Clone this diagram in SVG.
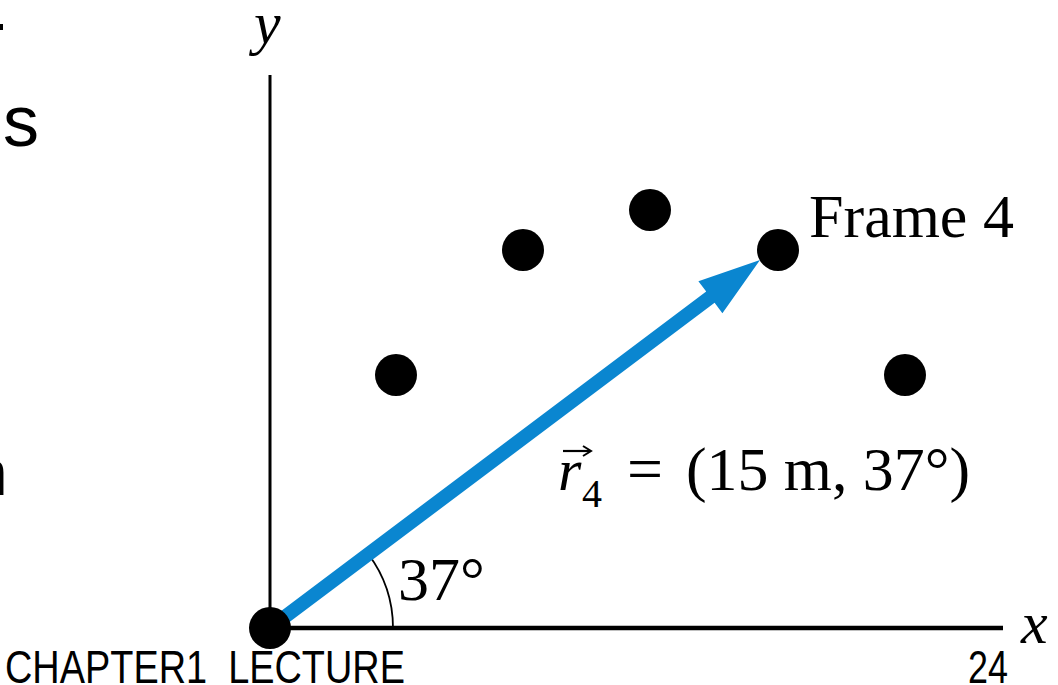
<svg xmlns="http://www.w3.org/2000/svg" width="1058" height="685" viewBox="0 0 1058 685">
<style>
.serif{font-family:"Liberation Serif","Times New Roman",serif;fill:#000}
.sans{font-family:"Liberation Sans",Arial,sans-serif;fill:#000}
.dot{fill:#000}
.axis{stroke:#000;fill:none}
</style>
<rect width="1058" height="685" fill="#fff"/>
<g id="slide-fragments">
<rect x="0" y="24" width="3" height="6" fill="#000"/>
<text class="sans" x="3" y="146" font-size="72">s</text>
<text class="sans" x="-28" y="495" font-size="64">n</text>
</g>
<g id="axes">
<line class="axis" x1="270" y1="75" x2="270" y2="628" stroke-width="3"/>
<line class="axis" x1="270" y1="628" x2="1003" y2="628" stroke-width="4.5"/>
<text class="serif" x="254" y="43" font-size="60" font-style="italic">y</text>
<text class="serif" x="1021" y="643" font-size="60" font-style="italic">x</text>
</g>
<g id="angle">
<path d="M393,628 A123,123 0 0 0 368.2,554" fill="none" stroke="#000" stroke-width="1.8"/>
<text class="serif" x="398" y="600" font-size="62">37°</text>
</g>
<g id="connectors">
<polygon points="265.8,622.4 706.2,291.6 698.4,281.2 760,260 722.4,313.2 714.6,302.8 274.2,633.6" fill="#0a86d0"/>
</g>
<g id="dot-origin"><circle class="dot" cx="270" cy="628" r="21"/></g>
<g id="dot-1"><circle class="dot" cx="396" cy="375" r="21"/></g>
<g id="dot-2"><circle class="dot" cx="523" cy="250" r="21"/></g>
<g id="dot-3"><circle class="dot" cx="650" cy="210" r="21"/></g>
<g id="dot-frame4"><circle class="dot" cx="778" cy="250" r="21"/>
<text class="serif" x="809" y="237" font-size="62">Frame 4</text></g>
<g id="dot-5"><circle class="dot" cx="905" cy="375" r="21"/></g>
<g id="vector-label">
<text class="serif" x="558" y="490" font-size="60" font-style="italic">r</text>
<text class="serif" x="582" y="507" font-size="40">4</text>
<text class="serif" x="627" y="490" font-size="64" textLength="36" lengthAdjust="spacingAndGlyphs">=</text>
<text class="serif" x="686" y="490" font-size="62" textLength="284" lengthAdjust="spacingAndGlyphs">(15 m, 37°)</text>
<path d="M563,451 L590,451" stroke="#000" stroke-width="2.2"/>
<path d="M583,446 L591,451 L583,456" fill="none" stroke="#000" stroke-width="2"/>
</g>
<g id="footer">
<text class="sans" x="5" y="683" font-size="46" textLength="400" lengthAdjust="spacingAndGlyphs" xml:space="preserve" style="white-space:pre">CHAPTER1  LECTURE</text>
<text class="sans" x="968" y="683" font-size="46" textLength="40" lengthAdjust="spacingAndGlyphs">24</text>
</g>
</svg>
